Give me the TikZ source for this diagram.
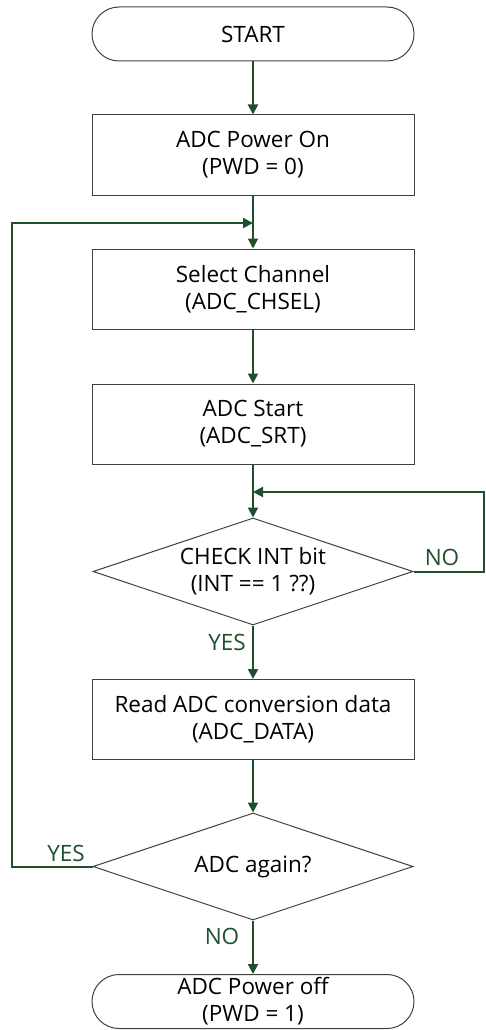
\documentclass[tikz,border=0pt]{standalone}
\usepackage{fontspec}
\setmainfont{Open Sans}
\usetikzlibrary{shapes.geometric,arrows.meta}
\definecolor{flowgreen}{RGB}{30,80,45}

\begin{document}
\begin{tikzpicture}[x=1pt,y=-1pt,
	font=\fontsize{22.5}{27}\selectfont,
	term/.style = { draw=black!75, line width=1pt, rounded corners=27pt,
		minimum width=322pt, minimum height=54pt, align=center, inner sep=0pt },
	proc/.style = { draw=black!75, line width=1pt,
		minimum width=322pt, minimum height=80pt, align=center, inner sep=0pt },
	decide/.style = { draw=black!75, line width=1pt, diamond, aspect=3,
		minimum width=320pt, minimum height=107pt, align=center, inner sep=0pt },
	flow/.style = { draw=flowgreen, line width=2pt,
		-{Triangle[length=10pt,width=10pt]} },
	lbl/.style = { text=flowgreen, inner sep=0pt }]

  \useasboundingbox (0,0) rectangle (485,1030);

  \node[term]   (start)  at (253,34)    {START};
  \node[proc]   (pwron)  at (253,155)   {ADC Power On\\(PWD = 0)};
  \node[proc]   (chsel)  at (253,289)   {Select Channel\\(ADC\_CHSEL)};
  \node[proc]   (adcsrt) at (253,424)   {ADC Start\\(ADC\_SRT)};
  \node[decide] (chk)    at (253,571.5) {CHECK INT bit\\(INT == 1 ??)};
  \node[proc]   (rdata)  at (253,719.5) {Read ADC conversion data\\(ADC\_DATA)};
  \node[decide] (again)  at (253,866.5) {ADC again?};
  \node[term]   (pwroff) at (253,1001.5) {ADC Power off\\(PWD = 1)};

  \coordinate (j1) at (253,223);
  \coordinate (j2) at (253,492);

  \draw[flow] (start) -- (pwron);
  \draw[flow] (pwron) -- (chsel);
  \draw[flow] (chsel) -- (adcsrt);
  \draw[flow] (adcsrt) -- (chk);
  \draw[flow] (chk) -- (rdata);
  \draw[flow] (rdata) -- (again);
  \draw[flow] (again) -- (pwroff);

  % loops back
  \draw[flow] (chk.east) -- (484,571.5) |- (j2);
  \draw[flow] (again.west) -- (12,866.5) |- (j1);

  \node[lbl] (no1)  at (442,557) {NO};
  \node[lbl] (yes1) at (227,642) {YES};
  \node[lbl] (yes2) at (66,853)  {YES};
  \node[lbl] (no2)  at (222,936) {NO};
\end{tikzpicture}
\end{document}
